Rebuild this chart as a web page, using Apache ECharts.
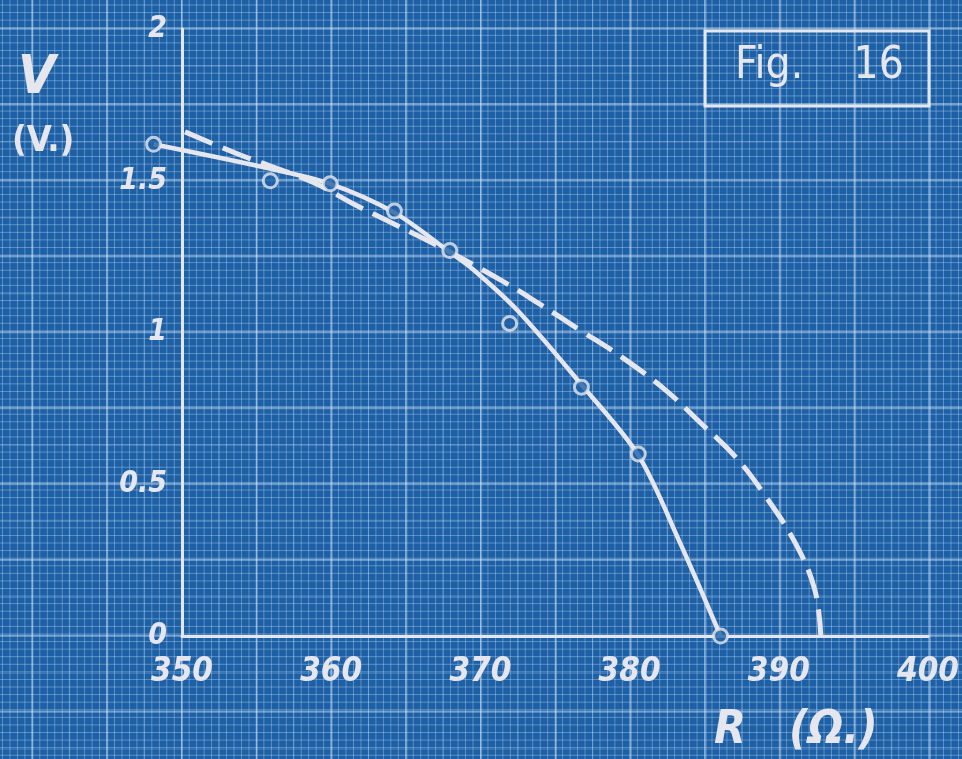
<!DOCTYPE html>
<html>
<head>
<meta charset="utf-8">
<script src="https://cdn.jsdelivr.net/npm/echarts@6/dist/echarts.min.js"></script>
<style>
  html, body { margin: 0; padding: 0; }
  /* blueprint graph paper: 1 mm fine lines, 5 mm medium, 10 mm bold */
  #chart {
    width: 962px; height: 759px;
    background-color: #1e60a5;
    background-image:
      linear-gradient(to right, rgba(225,240,255,0.36) 2px, transparent 2px),
      linear-gradient(to bottom, rgba(225,240,255,0.36) 2px, transparent 2px),
      linear-gradient(to right, rgba(210,235,255,0.22) 1px, transparent 1px),
      linear-gradient(to bottom, rgba(210,235,255,0.22) 1px, transparent 1px),
      linear-gradient(to right, rgba(205,232,255,0.36) 1px, transparent 1px),
      linear-gradient(to bottom, rgba(205,232,255,0.36) 1px, transparent 1px);
    background-size:
      74.8px 75.9px, 74.8px 75.9px,
      37.4px 37.95px, 37.4px 37.95px,
      7.48px 7.59px, 7.48px 7.59px;
    background-position:
      31.4px 27.8px, 31.4px 27.8px,
      31.4px 27.8px, 31.4px 27.8px,
      2px 4.5px, 2px 4.5px;
  }
</style>
</head>
<body>
<div id="chart"></div>
<script>
// Resistance R (Ω) and voltage V (V) of the measured points
const measuredR = [348.1, 355.9, 359.9, 364.2, 367.9, 371.9, 376.7, 380.5, 386.0];
const measuredV = [1.62, 1.50, 1.49, 1.40, 1.27, 1.03, 0.82, 0.60, 0];

// Curve drawn through the measurements
const fitR = [348.1, 355.4, 359.9, 364.2, 367.9, 369.5, 372.4, 376.6, 380.5, 383.3, 386.0];
const fitV = [1.62, 1.545, 1.49, 1.395, 1.265, 1.206, 1.074, 0.834, 0.596, 0.306, 0];

// Calculated (dashed) curve
const calcR = [350.2, 353.9, 358.7, 361.6, 365.4, 367.9, 371.4, 373.9, 376.6, 379.4, 382.4, 384.6, 387.0, 389.0, 391.0, 392.3, 392.7];
const calcV = [1.661, 1.585, 1.496, 1.420, 1.328, 1.265, 1.170, 1.094, 1.008, 0.919, 0.807, 0.705, 0.590, 0.461, 0.306, 0.152, 0];

// Axis ticks
const rTicks = [350, 360, 370, 380, 390, 400];
const vTicks = [0, 0.5, 1, 1.5, 2];

const ink = '#e6e7ee';
const hand = "'Liberation Sans Narrow', 'DejaVu Sans Condensed', 'Liberation Sans', sans-serif";

const zip = (a, b) => a.map((x, i) => [x, b[i]]);

// plot area of the drawn axes
const plot = { left: 182, right: 32, top: 29, bottom: 123 };
const rMin = rTicks[0], rMax = rTicks[rTicks.length - 1];
const pxPerOhm = (962 - plot.left - plot.right) / (rMax - rMin);
// an overlay grid with the same scale, reaching 10 Ω further left, so the
// first reading (just below 350 Ω) is drawn outside the axes like on paper
const rExtra = 10;

const chart = echarts.init(document.getElementById('chart'), null, { renderer: 'canvas' });

const hiddenAxis = {
  show: false, type: 'value',
  axisLine: { show: false }, axisTick: { show: false },
  axisLabel: { show: false }, splitLine: { show: false }
};

chart.setOption({
  backgroundColor: 'transparent',
  animation: false,
  grid: [
    { left: plot.left, right: plot.right, top: plot.top, bottom: plot.bottom },
    { left: plot.left - rExtra * pxPerOhm, right: plot.right, top: plot.top, bottom: plot.bottom }
  ],
  xAxis: [
    {
      gridIndex: 0, type: 'value',
      min: rMin, max: rMax, interval: 10,
      axisLine: { show: true, lineStyle: { color: ink, width: 3 } },
      axisTick: { show: false },
      splitLine: { show: false },
      axisLabel: {
        color: ink, fontSize: 33, fontStyle: 'italic', fontWeight: 'bold',
        fontFamily: hand, margin: 20
      }
    },
    Object.assign({ gridIndex: 1, min: rMin - rExtra, max: rMax }, hiddenAxis)
  ],
  yAxis: [
    {
      gridIndex: 0, type: 'value',
      min: vTicks[0], max: vTicks[vTicks.length - 1], interval: 0.5,
      axisLine: { show: true, onZero: false, lineStyle: { color: ink, width: 3 } },
      axisTick: { show: false },
      splitLine: { show: false },
      axisLabel: {
        color: ink, fontSize: 30, fontStyle: 'italic', fontWeight: 'bold',
        fontFamily: hand, margin: 15
      }
    },
    Object.assign({ gridIndex: 1, min: vTicks[0], max: vTicks[vTicks.length - 1] }, hiddenAxis)
  ],
  series: [
    {
      type: 'line', xAxisIndex: 1, yAxisIndex: 1,
      data: zip(calcR, calcV),
      smooth: 0.4,
      showSymbol: false,
      lineStyle: { color: ink, width: 5, type: [30, 11], cap: 'butt' },
      z: 2
    },
    {
      type: 'line', xAxisIndex: 1, yAxisIndex: 1,
      data: zip(fitR, fitV),
      smooth: 0.3,
      showSymbol: false,
      lineStyle: { color: ink, width: 4.5 },
      z: 3
    },
    {
      type: 'scatter', xAxisIndex: 1, yAxisIndex: 1,
      data: zip(measuredR, measuredV),
      symbol: 'circle',
      symbolSize: 14,
      itemStyle: { color: '#1e60a5', borderColor: ink, borderWidth: 3 },
      z: 4
    }
  ],
  graphic: [
    {
      type: 'text', left: 18, top: 52,
      style: { text: 'V', fill: ink, font: `italic bold 54px ${hand}` }
    },
    {
      type: 'text', left: 12, top: 124,
      style: { text: '(V.)', fill: ink, font: `bold 36px ${hand}` }
    },
    {
      type: 'text', left: 714, top: 708,
      style: { text: 'R   (Ω.)', fill: ink, font: `italic bold 46px ${hand}` }
    },
    {
      type: 'rect',
      shape: { x: 705, y: 31, width: 224, height: 75 },
      style: { fill: 'none', stroke: ink, lineWidth: 3 }
    },
    {
      type: 'text', left: 735, top: 45,
      style: { text: 'Fig.    16', fill: ink, font: `44px ${hand}` }
    }
  ]
});
</script>
</body>
</html>
